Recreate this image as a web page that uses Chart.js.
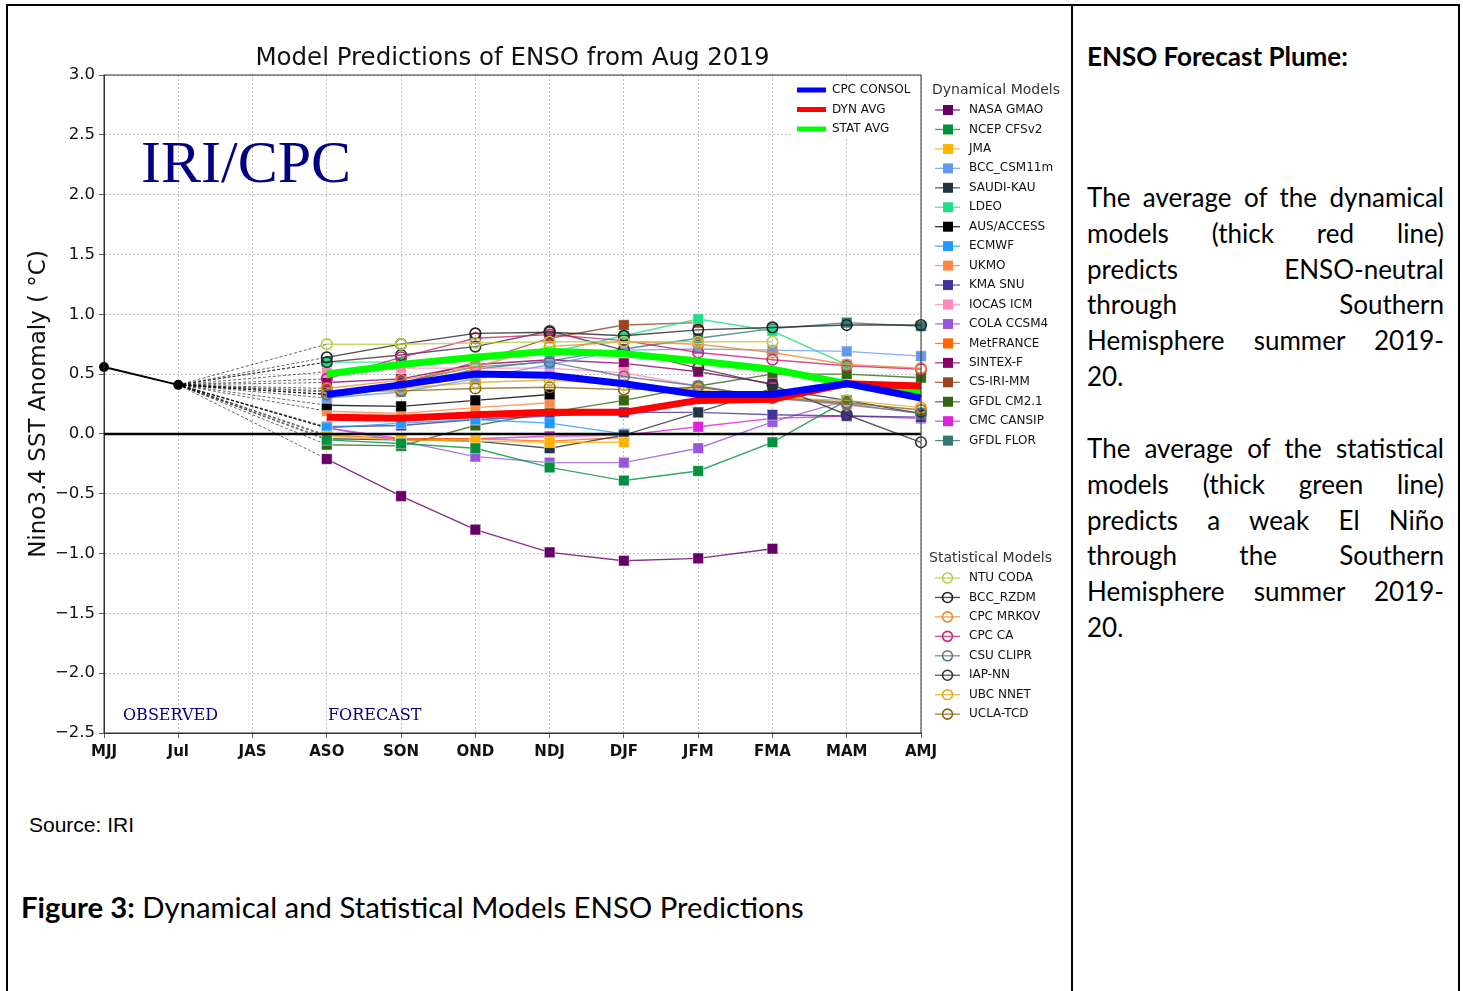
<!DOCTYPE html>
<html>
<head>
<meta charset="utf-8">
<script src="https://cdn.jsdelivr.net/npm/chart.js@4.4.0/dist/chart.umd.min.js"></script>
<style>
  body { margin: 0; width: 1463px; height: 991px; overflow: hidden; position: relative; background: #fff; font-family: Lato, sans-serif; color: #000; }
  .ln { position: absolute; background: #000; }
  #plume { position: absolute; left: 0; top: 0; z-index: 2; }
  .txt { position: absolute; z-index: 3; }
  .col { left: 1087px; width: 357px; font-size: 26px; line-height: 35.8px; }
  .col div { text-align: justify; text-align-last: justify; white-space: nowrap; }
  .col div.last { text-align-last: left; }
</style>
</head>
<body>
<div class="ln" style="left:6px;top:4px;width:1454px;height:1.5px"></div>
<div class="ln" style="left:6px;top:4px;width:1.5px;height:990px"></div>
<div class="ln" style="left:1071px;top:4px;width:1.5px;height:990px"></div>
<div class="ln" style="left:1458px;top:4px;width:1.5px;height:990px"></div>

<canvas id="plume" width="1070" height="790"></canvas>

<div class="txt" style="left:29px;top:812px;font-family:'Liberation Sans';font-size:21px;line-height:26px">Source: IRI</div>
<div class="txt" style="left:21px;top:889px;font-size:29.3px;line-height:36px"><b>Figure 3:</b> Dynamical and Statistical Models ENSO Predictions</div>

<div class="txt col" style="top:39px"><b>ENSO Forecast Plume:</b></div>
<div class="txt col" style="top:180px">
  <div>The average of the dynamical</div>
  <div>models (thick red line)</div>
  <div>predicts ENSO-neutral</div>
  <div>through Southern</div>
  <div>Hemisphere summer 2019-</div>
  <div class="last">20.</div>
</div>
<div class="txt col" style="top:431px">
  <div>The average of the statistical</div>
  <div>models (thick green line)</div>
  <div>predicts a weak El Niño</div>
  <div>through the Southern</div>
  <div>Hemisphere summer 2019-</div>
  <div class="last">20.</div>
</div>

<script>
// season labels, forecasts start at ASO
const seasons = ["MJJ", "Jul", "JAS", "ASO", "SON", "OND", "NDJ", "DJF", "JFM", "FMA", "MAM", "AMJ"];
const yRange = [-2.5, 3.0];

// observed anomaly
const observed = [0.56, 0.41];

// averages (ASO onward)
const CPC_CONSOL = [0.33, 0.41, 0.50, 0.49, 0.42, 0.33, 0.33, 0.42, 0.30];
const DYN_AVG = [0.14, 0.13, 0.16, 0.18, 0.18, 0.28, 0.29, 0.42, 0.40];
const STAT_AVG = [0.50, 0.58, 0.64, 0.69, 0.67, 0.61, 0.54, 0.42, 0.36];

// dynamical models (ASO onward)
const NASA_GMAO = [-0.21, -0.52, -0.80, -0.99, -1.06, -1.04, -0.96];
const NCEP_CFSV2 = [-0.05, -0.08, -0.12, -0.28, -0.39, -0.31, -0.07, 0.28];
const JMA = [-0.02, -0.05, -0.06, -0.07, -0.07];
const BCC_CSM11M = [0.30, 0.35, 0.46, 0.58, 0.70, 0.71, 0.70, 0.69, 0.65];
const SAUDI_KAU = [-0.04, -0.05, -0.06, -0.12, -0.01, 0.18, 0.38, 0.28, 0.17];
const LDEO = [0.60, 0.60, 0.62, 0.68, 0.82, 0.96, 0.86, 0.58];
const AUS_ACCESS = [0.24, 0.23, 0.28, 0.33];
const ECMWF = [0.05, 0.09, 0.12, 0.09, 0.00];
const UKMO = [0.19, 0.17, 0.22, 0.26];
const KMA_SNU = [0.06, 0.07, 0.12, 0.15, 0.18, 0.18, 0.16, 0.15, 0.14];
const IOCAS_ICM = [0.52, 0.55, 0.55, 0.55, 0.51, 0.40, 0.30, 0.24, 0.18];
const COLA_CCSM4 = [0.05, -0.06, -0.19, -0.24, -0.24, -0.12, 0.10, 0.28];
const MET_FRANCE = [-0.01, -0.04, -0.04, -0.06, -0.03];
const SINTEX_F = [0.43, 0.46, 0.58, 0.62, 0.59, 0.52, 0.42];
const CS_IRI_MM = [0.35, 0.42, 0.60, 0.80, 0.91, 0.93];
const GFDL_CM21 = [-0.09, -0.10, 0.07, 0.18, 0.28, 0.40, 0.50, 0.50, 0.47];
const CMC_CANSIP = [0.05, -0.04, -0.04, -0.02, -0.01, 0.06, 0.13, 0.15, 0.13];
const GFDL_FLOR = [0.33, 0.40, 0.54, 0.61, 0.71, 0.80, 0.88, 0.93, 0.90];

// statistical models (ASO onward)
const NTU_CODA = [0.75, 0.75, 0.76, 0.77, 0.77, 0.77, 0.77];
const BCC_RZDM = [0.64, 0.75, 0.84, 0.85, 0.82, 0.87, 0.89, 0.91, 0.91];
const CPC_MRKOV = [0.38, 0.45, 0.56, 0.73, 0.77, 0.75, 0.68, 0.58, 0.55];
const CPC_CA = [0.46, 0.64, 0.80, 0.83, 0.78, 0.68, 0.62, 0.57, 0.54];
const CSU_CLIPR = [0.33, 0.43, 0.56, 0.60, 0.48, 0.40, 0.30, 0.25, 0.17];
const IAP_NN = [0.60, 0.66, 0.73, 0.86, 0.70, 0.55, 0.41, 0.16, -0.07];
const UBC_NNET = [0.33, 0.38, 0.43, 0.45, 0.41, 0.37, 0.30, 0.28, 0.22];
const UCLA_TCD = [0.36, 0.36, 0.38, 0.39, 0.37, 0.39, 0.31, 0.26, 0.20];

const dynModels = [
  ["NASA GMAO", NASA_GMAO, "#660066"],
  ["NCEP CFSv2", NCEP_CFSV2, "#00913f"],
  ["JMA", JMA, "#ffb300"],
  ["BCC_CSM11m", BCC_CSM11M, "#6699ee"],
  ["SAUDI-KAU", SAUDI_KAU, "#223344"],
  ["LDEO", LDEO, "#22dd88"],
  ["AUS/ACCESS", AUS_ACCESS, "#000000"],
  ["ECMWF", ECMWF, "#2299ff"],
  ["UKMO", UKMO, "#ff8844"],
  ["KMA SNU", KMA_SNU, "#443399"],
  ["IOCAS ICM", IOCAS_ICM, "#ff88bb"],
  ["COLA CCSM4", COLA_CCSM4, "#9955dd"],
  ["MetFRANCE", MET_FRANCE, "#ff6600"],
  ["SINTEX-F", SINTEX_F, "#880066"],
  ["CS-IRI-MM", CS_IRI_MM, "#994422"],
  ["GFDL CM2.1", GFDL_CM21, "#336611"],
  ["CMC CANSIP", CMC_CANSIP, "#dd22dd"],
  ["GFDL FLOR", GFDL_FLOR, "#337777"]
];
const statModels = [
  ["NTU CODA", NTU_CODA, "#bbcc44"],
  ["BCC_RZDM", BCC_RZDM, "#222222"],
  ["CPC MRKOV", CPC_MRKOV, "#ee8833"],
  ["CPC CA", CPC_CA, "#cc2277"],
  ["CSU CLIPR", CSU_CLIPR, "#557788"],
  ["IAP-NN", IAP_NN, "#333333"],
  ["UBC NNET", UBC_NNET, "#ddaa22"],
  ["UCLA-TCD", UCLA_TCD, "#886611"]
];
const averages = [
  ["CPC CONSOL", CPC_CONSOL, "#0000ff"],
  ["DYN AVG", DYN_AVG, "#ff0000"],
  ["STAT AVG", STAT_AVG, "#00ff00"]
];

// model runs hang off the last observed month with a dotted link
function fromJul(vals) {
  return [null, observed[1], null].concat(vals);
}
function fromAso(vals) {
  return [null, null, null].concat(vals);
}
function fade(hex, a) {
  const n = parseInt(hex.slice(1), 16);
  return "rgba(" + (n >> 16) + "," + ((n >> 8) & 255) + "," + (n & 255) + "," + a + ")";
}

// segment Jul -> ASO passes the skipped JAS point, so both steps get the link style
const inLink = c => c.p1DataIndex <= 3;
const link = {
  borderColor: c => inLink(c) ? "rgba(0,0,0,0.75)" : undefined,
  borderDash: c => inLink(c) ? [3, 2] : undefined,
  borderWidth: c => inLink(c) ? 0.8 : undefined
};

function modelSet(m, group) {
  const isDyn = group === "dyn";
  return {
    label: m[0],
    group: group,
    data: fromJul(m[1]),
    borderColor: fade(m[2], 0.8),
    borderWidth: 1.4,
    spanGaps: true,
    segment: link,
    pointStyle: isDyn ? "rect" : "circle",
    pointRadius: c => c.dataIndex === 1 ? 0 : (isDyn ? 7.5 : 5.3),
    pointBackgroundColor: isDyn ? m[2] : "rgba(255,255,255,0)",
    pointBorderColor: isDyn ? "rgba(255,255,255,0.45)" : m[2],
    pointBorderWidth: isDyn ? 1 : 1.6
  };
}

const datasets = [];
datasets.push({
  label: "Observed", group: "obs", data: observed,
  borderColor: "#000", borderWidth: 2, pointRadius: 4,
  pointBackgroundColor: "#000", pointBorderColor: "#000"
});
averages.forEach(m => datasets.push({
  label: m[0], group: "avg", data: fromAso(m[1]),
  borderColor: m[2], borderWidth: 7, pointRadius: 0, spanGaps: true
}));
datasets.push({
  label: "zero", group: "none", data: seasons.map(() => 0),
  borderColor: "#000", borderWidth: 2.5, pointRadius: 0
});
statModels.forEach(m => datasets.push(modelSet(m, "stat")));
dynModels.forEach(m => datasets.push(modelSet(m, "dyn")));

const overlay = {
  id: "overlay",
  afterDraw(chart) {
    const ctx = chart.ctx;
    const a = chart.chartArea;
    ctx.save();
    // remaining spines
    ctx.strokeStyle = "#333";
    ctx.lineWidth = 1;
    ctx.strokeRect(a.left, a.top, a.right - a.left, a.bottom - a.top);

    ctx.fillStyle = "#111";
    ctx.font = '24.5px "DejaVu Sans"';
    ctx.textAlign = "center";
    ctx.textBaseline = "middle";
    ctx.fillText("Model Predictions of ENSO from Aug 2019", (a.left + a.right) / 2, 59);

    ctx.fillStyle = "#000080";
    ctx.textAlign = "left";
    ctx.textBaseline = "alphabetic";
    ctx.font = '60px "Liberation Serif"';
    ctx.fillText("IRI/CPC", 141, 182);
    ctx.font = '16px "DejaVu Serif"';
    ctx.fillText("OBSERVED", 123, 720);
    ctx.fillText("FORECAST", 328, 720);

    ctx.textBaseline = "middle";
    const sets = chart.data.datasets;

    // averages legend, white box inside the axes
    ctx.fillStyle = "#fff";
    ctx.fillRect(791, 80, 128, 57);
    ctx.font = '12px "DejaVu Sans"';
    sets.filter(d => d.group === "avg").forEach((d, i) => {
      const y = 90 + i * 19.5;
      ctx.strokeStyle = d.borderColor;
      ctx.lineWidth = 5;
      ctx.beginPath(); ctx.moveTo(797, y); ctx.lineTo(826, y); ctx.stroke();
      ctx.fillStyle = "#111";
      ctx.fillText(d.label, 832, y);
    });

    function groupLegend(group, title, tx, ty, y0) {
      ctx.font = '14px "DejaVu Sans"';
      ctx.fillStyle = "#333";
      ctx.fillText(title, tx, ty);
      ctx.font = '12px "DejaVu Sans"';
      sets.filter(d => d.group === group).forEach((d, i) => {
        const y = y0 + i * 19.45;
        ctx.strokeStyle = d.borderColor;
        ctx.lineWidth = 1.3;
        ctx.beginPath(); ctx.moveTo(935, y); ctx.lineTo(960, y); ctx.stroke();
        if (group === "dyn") {
          ctx.fillStyle = d.pointBackgroundColor;
          ctx.fillRect(943, y - 5, 10, 10);
        } else {
          ctx.strokeStyle = d.pointBorderColor;
          ctx.lineWidth = 1.6;
          ctx.beginPath(); ctx.arc(947.5, y, 5, 0, Math.PI * 2); ctx.stroke();
        }
        ctx.fillStyle = "#111";
        ctx.fillText(d.label, 969, y);
      });
    }
    groupLegend("dyn", "Dynamical Models", 932, 90, 110);
    groupLegend("stat", "Statistical Models", 929, 558, 578);
    ctx.restore();
  }
};

new Chart(document.getElementById("plume").getContext("2d"), {
  type: "line",
  data: { labels: seasons, datasets: datasets },
  options: {
    responsive: false,
    animation: false,
    events: [],
    layout: { padding: { left: 0, top: 75, right: 149, bottom: 0 } },
    plugins: { legend: { display: false }, title: { display: false }, tooltip: { enabled: false } },
    scales: {
      x: {
        offset: false,
        grid: { color: "#b0b0b0", lineWidth: 0.8, tickLength: 5, tickColor: "#333" },
        border: { color: "#333", width: 1, dash: [2, 2] },
        ticks: { color: "#111", padding: 5, maxRotation: 0, autoSkip: false, font: { family: "DejaVu Sans", size: 15, weight: "bold" } },
        afterFit: s => { s.height = 57; }
      },
      y: {
        min: yRange[0],
        max: yRange[1],
        grid: { color: "#b0b0b0", lineWidth: 0.8, tickLength: 5, tickColor: "#333" },
        border: { color: "#333", width: 1, dash: [2, 2] },
        ticks: {
          stepSize: 0.5, color: "#111", padding: 4,
          font: { family: "DejaVu Sans", size: 16.5 },
          callback: v => v.toFixed(1).replace("-", "\u2212")
        },
        title: {
          display: true, text: "Nino3.4 SST Anomaly ( \u00b0C)", color: "#111",
          padding: { top: 25, bottom: 0 },
          font: { family: "DejaVu Sans", size: 23 }
        },
        afterFit: s => { s.width = 104; }
      }
    }
  },
  plugins: [overlay]
});
</script>
</body>
</html>
